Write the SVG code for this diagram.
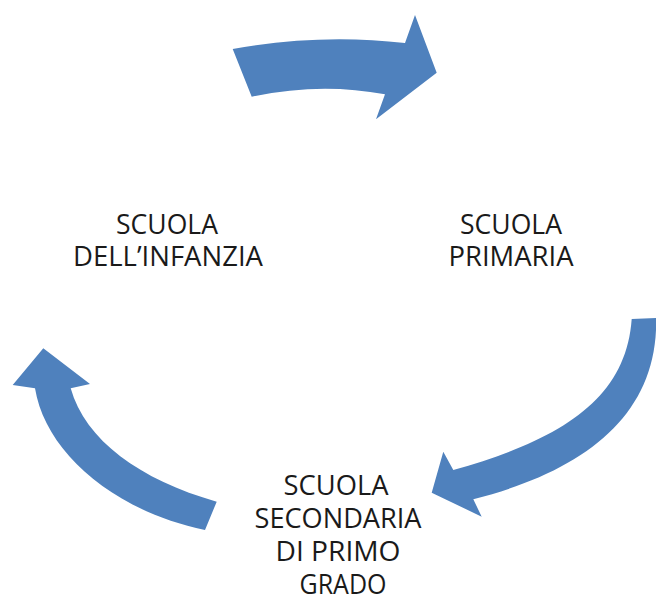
<svg xmlns="http://www.w3.org/2000/svg" width="656" height="597" viewBox="0 0 656 597">
<style>
.arrow{fill:#4f81bd;stroke:none}
.lbl{font-family:"Open Sans","Noto Sans",sans-serif;font-size:27px;fill:#1a1a1a;text-anchor:middle}
</style>
<rect width="656" height="597" fill="#ffffff"/>
<g id="connectors">
<path class="arrow" d="M232.7,49 Q320,33 405,43 L415,15 L436.7,72.7 L376,119.3 L385,94.3 Q320,82 251.7,96.7 Z"/>
<path class="arrow" d="M631.7,319 L656,318 L656,330 C652,420 580,472 473.3,499.3 L481.7,516.7 L431.7,492.7 L443.3,451.7 L453.3,470 C560,440 626,400 631.7,319 Z"/>
<path class="arrow" d="M216.7,501.7 L205,530 C110,510 45,450 35,388.3 L12.7,385 L43.3,348.3 L90,384 L70.7,388.3 C85,440 140,480 216.7,501.7 Z"/>
</g>
<g id="node-infanzia">
<text class="lbl" x="167" y="234" textLength="102" lengthAdjust="spacingAndGlyphs">SCUOLA</text>
<text class="lbl" x="168" y="266" textLength="190" lengthAdjust="spacingAndGlyphs">DELL’INFANZIA</text>
</g>
<g id="node-primaria">
<text class="lbl" x="511" y="234" textLength="102" lengthAdjust="spacingAndGlyphs">SCUOLA</text>
<text class="lbl" x="511" y="266" textLength="125" lengthAdjust="spacingAndGlyphs">PRIMARIA</text>
</g>
<g id="node-secondaria">
<text class="lbl" x="336" y="495" textLength="105" lengthAdjust="spacingAndGlyphs">SCUOLA</text>
<text class="lbl" x="338" y="528" textLength="167" lengthAdjust="spacingAndGlyphs">SECONDARIA</text>
<text class="lbl" x="338" y="561" textLength="125" lengthAdjust="spacingAndGlyphs">DI PRIMO</text>
<text class="lbl" x="343" y="594" textLength="87" lengthAdjust="spacingAndGlyphs">GRADO</text>
</g>
</svg>
